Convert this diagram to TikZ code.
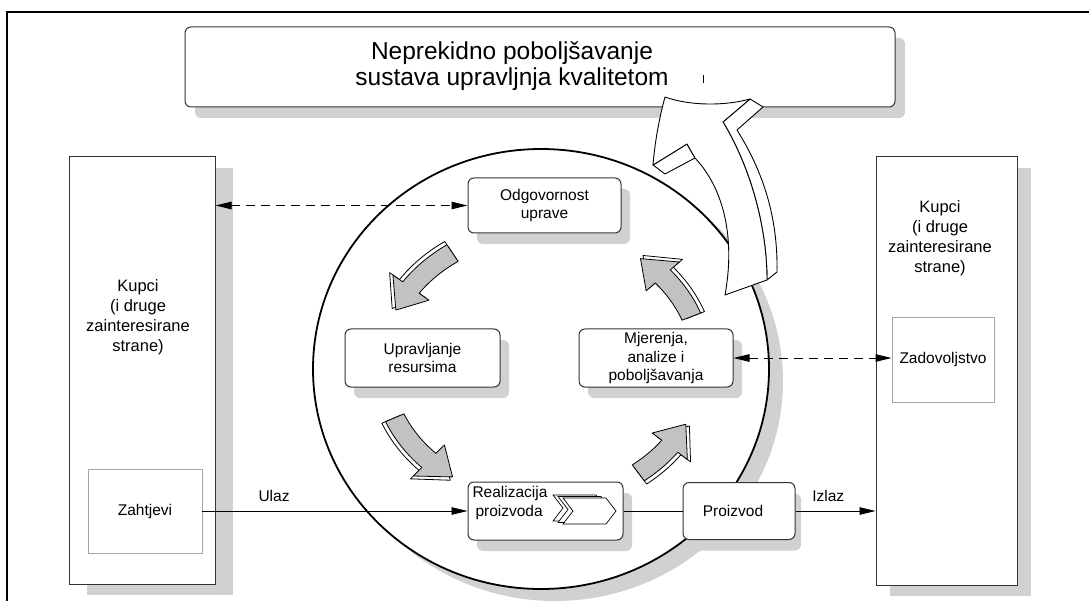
\documentclass[tikz,border=0pt]{standalone}
\usepackage{fontspec}
\setmainfont{Liberation Sans}
\usepackage{xcolor}
\usetikzlibrary{arrows.meta,positioning,calc,shadows}

\definecolor{shadowgrey}{gray}{0.82}
\definecolor{arrowgrey}{gray}{0.76}
\definecolor{boxline}{gray}{0.2}
\definecolor{innerline}{gray}{0.65}

\tikzset{
  procbox/.style={draw=boxline, line width=1pt, rounded corners=6pt, fill=white,
    inner sep=0pt, align=center, font=\fontsize{15.5}{18.5}\selectfont},
  partybox/.style={draw=boxline, line width=1pt, fill=white, inner sep=0pt},
  subbox/.style={draw=innerline, line width=0.9pt, fill=white, inner sep=0pt,
    font=\fontsize{15.5}{18.5}\selectfont},
  boxshadow/.style={drop shadow={shadow xshift=#1, shadow yshift=-11pt,
    fill=shadowgrey, opacity=1}},
  boxshadow/.default=9pt,
  flow/.style={line width=0.9pt, -{Triangle[length=16pt,width=7.5pt]}},
  feedback/.style={line width=0.9pt, dash pattern=on 9pt off 6pt,
    {Triangle[length=16pt,width=7.5pt]}-{Triangle[length=16pt,width=7.5pt]}},
  lbl/.style={font=\fontsize{15.5}{18.5}\selectfont}
}

% one grey 3d arrow on the cycle, #1 = tail angle, #2 = tip angle
\newcommand{\cyclearrow}[2]{%
  \pgfmathsetmacro\hb{#2+11}
  \foreach \o/\col in {4/white,0/arrowgrey}{
    \filldraw[fill=\col, line width=0.8pt, line join=round]
      plot[domain=#1:\hb, samples=16] ({542+(170+\o)*cos(\x)},{365+(145+\o)*sin(\x)})
      -- ({542+(182+\o)*cos(\hb)},{365+(157+\o)*sin(\hb)})
      -- ({542+(160+\o)*cos(#2)},{365+(135+\o)*sin(#2)})
      -- ({542+(138+\o)*cos(\hb)},{365+(113+\o)*sin(\hb)})
      -- plot[domain=\hb:#1, samples=16] ({542+(150+\o)*cos(\x)},{365+(125+\o)*sin(\x)})
      -- cycle;
  }
}

\begin{document}
\begin{tikzpicture}[x=1pt, y=-1pt]
    \useasboundingbox (0,0) rectangle (1089,601);

    % Frame
    \draw[line width=1.2pt] (1089,12) -- (7,12) -- (7,601);

    % Top box
    \node[procbox, boxshadow=10pt, minimum width=710pt, minimum height=80pt] (title) at (540,67) {};
    \node[align=center, font=\fontsize{24.5}{25.5}\selectfont] (titletext) at (512,66)
      {Neprekidno poboljšavanje\\sustava upravljnja kvalitetom};
    \draw[line width=0.6pt] (703,75) -- (703,83);

    % Circle
    \fill[shadowgrey] (555,381) ellipse [x radius=228pt, y radius=220pt];
    \draw[fill=white, line width=1.8pt] (541,369) ellipse [x radius=228pt, y radius=220pt];

    % Customers
    \node[partybox, boxshadow=18pt, minimum width=146pt, minimum height=427pt] (kupciL) at (142,370.5) {};
    \node[align=center, font=\fontsize{16.5}{20}\selectfont] (kupciLtxt) at (138,317)
      {Kupci\\(i druge\\zainteresirane\\strane)};
    \node[subbox, minimum width=114pt, minimum height=84pt] (zahtjevi) at (145,511) {Zahtjevi};

    \node[partybox, boxshadow=14pt, minimum width=141pt, minimum height=428pt] (kupciR) at (946.5,371) {};
    \node[align=center, font=\fontsize{16.5}{20}\selectfont] (kupciRtxt) at (940,238)
      {Kupci\\(i druge\\zainteresirane\\strane)};
    \node[subbox, minimum width=102pt, minimum height=85pt] (zadovoljstvo) at (943,359.5) {Zadovoljstvo};

    % Processes
    \node[procbox, boxshadow, minimum width=153pt, minimum height=55pt] (odg) at (544.5,205.5) {Odgovornost\\uprave};
    \node[procbox, boxshadow, minimum width=155pt, minimum height=58pt] (upr) at (422.5,358) {Upravljanje\\resursima};
    \node[procbox, boxshadow, minimum width=154pt, minimum height=58pt] (mje) at (656,358) {Mjerenja,\\analize i\\poboljšavanja};
    \node[procbox, boxshadow, minimum width=155pt, minimum height=58pt] (real) at (545.5,511) {};
    \node[align=left, lbl, inner sep=0pt] (realtxt) at (510,503) {Realizacija\\\hspace*{3pt}proizvoda};
    \node[procbox, boxshadow=6pt, minimum width=112pt, minimum height=57pt] (proizvod) at (739,511) {Proizvod\hspace*{12pt}};

    % Chevrons
    \foreach \s in {10,5,0}
      \filldraw[fill=white, line width=0.7pt, xshift=-\s pt, yshift=0.3*\s pt]
        (563,498) -- (606,498) -- (616,511) -- (606,524) -- (563,524) -- (573,511) -- cycle;

    % Flows
    \draw[flow] (zahtjevi.east) -- (zahtjevi.east -| real.west) node[pos=0.27, above=6pt, lbl] (ulaz) {Ulaz};
    \draw[line width=0.9pt] (real.east) -- (proizvod.west);
    \draw[flow] (proizvod.east) -- (proizvod.east -| kupciR.west) node[pos=0.41, above=6pt, lbl] (izlaz) {Izlaz};
    \draw[feedback] (odg.west -| kupciL.east) -- (odg.west);
    \draw[feedback] (mje.east) -- (mje.east -| zadovoljstvo.west);

    % Cycle arrows
    \cyclearrow{236}{204}
    \cyclearrow{157}{124}
    \cyclearrow{53}{26}
    \cyclearrow{339}{308}

    % Big arrow up to the top box
    \filldraw[fill=white, line width=0.9pt, line join=round]
      (750,99) -- (763,107) -- (737,130) .. controls (762,170) and (778,215) .. (777,272)
      -- (767,280) .. controls (767,230) and (752,170) .. (723,122) -- cycle;
    \filldraw[fill=white, line width=0.9pt, line join=round]
      (653,165) -- (665,174) -- (695,158) -- (687,144) -- cycle;
    \filldraw[fill=white, line width=0.9pt, line join=round]
      (665,97) .. controls (690,106) and (725,106) .. (750,99) -- (723,122)
      .. controls (752,170) and (767,230) .. (767,280) -- (725,295)
      .. controls (735,240) and (725,190) .. (695,158) -- (687,144) -- (653,165)
      .. controls (655,140) and (660,115) .. (665,97) -- cycle;
\end{tikzpicture}
\end{document}
